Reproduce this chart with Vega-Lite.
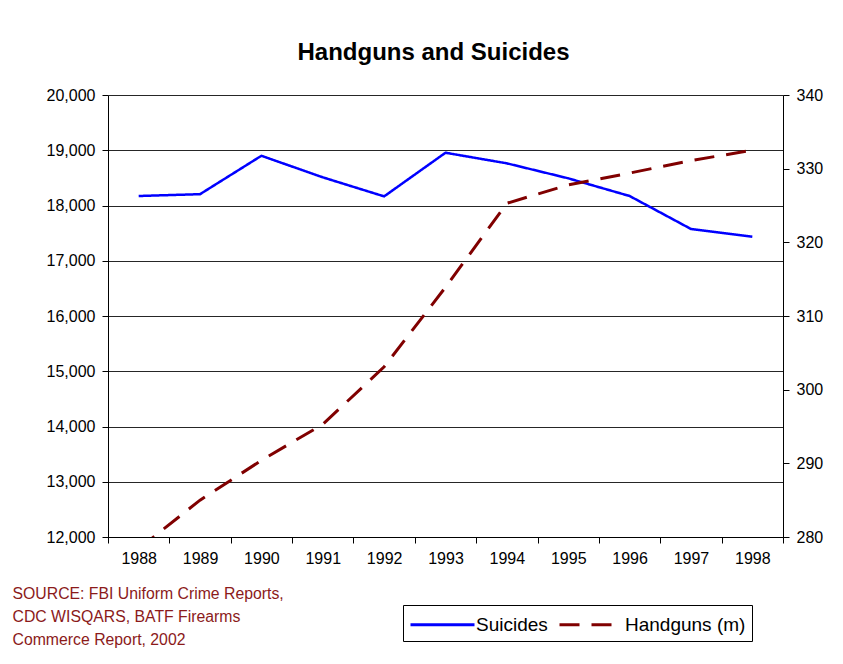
{
  "$schema": "https://vega.github.io/schema/vega-lite/v6.json",
  "width": 675,
  "height": 442,
  "autosize": "none",
  "padding": {"left": 108, "top": 95, "right": 60, "bottom": 127},
  "background": "white",
  "title": {
    "text": "Handguns and Suicides",
    "font": "Liberation Sans",
    "fontSize": 24,
    "fontWeight": "bold",
    "color": "black",
    "anchor": "middle",
    "dx": -12,
    "offset": 22
  },
  "config": {
    "view": {"stroke": null},
    "font": "Liberation Sans",
    "axis": {
      "labelFont": "Liberation Sans",
      "labelFontSize": 16,
      "labelColor": "black",
      "domainColor": "black",
      "tickColor": "black",
      "tickSize": 6,
      "labelPadding": 7
    }
  },
  "data": {
    "values": [
      {"year": "1988", "series": "Suicides", "value": 18172},
      {"year": "1989", "series": "Suicides", "value": 18205},
      {"year": "1990", "series": "Suicides", "value": 18900},
      {"year": "1991", "series": "Suicides", "value": 18510},
      {"year": "1992", "series": "Suicides", "value": 18165},
      {"year": "1993", "series": "Suicides", "value": 18955},
      {"year": "1994", "series": "Suicides", "value": 18763},
      {"year": "1995", "series": "Suicides", "value": 18492},
      {"year": "1996", "series": "Suicides", "value": 18172},
      {"year": "1997", "series": "Suicides", "value": 17575},
      {"year": "1998", "series": "Suicides", "value": 17435},
      {"year": "1988", "series": "Handguns (m)", "value": 278.4},
      {"year": "1989", "series": "Handguns (m)", "value": 285.0},
      {"year": "1990", "series": "Handguns (m)", "value": 290.4},
      {"year": "1991", "series": "Handguns (m)", "value": 295.3},
      {"year": "1992", "series": "Handguns (m)", "value": 303.1},
      {"year": "1993", "series": "Handguns (m)", "value": 313.9},
      {"year": "1994", "series": "Handguns (m)", "value": 325.3},
      {"year": "1995", "series": "Handguns (m)", "value": 327.8},
      {"year": "1996", "series": "Handguns (m)", "value": 329.4},
      {"year": "1997", "series": "Handguns (m)", "value": 331.1},
      {"year": "1998", "series": "Handguns (m)", "value": 332.5}
    ]
  },
  "encoding": {
    "x": {
      "field": "year",
      "type": "ordinal",
      "bandPosition": 0.5,
      "scale": {"type": "band", "paddingInner": 0, "paddingOuter": 0},
      "axis": {
        "labelAngle": 0,
        "tickBand": "extent",
        "domainColor": "black",
        "title": ["SOURCE: FBI Uniform Crime Reports,", "CDC WISQARS, BATF Firearms", "Commerce Report, 2002"],
        "titleFont": "Liberation Sans",
        "titleFontSize": 15.8,
        "titleFontWeight": "normal",
        "titleColor": "#8B1A1A",
        "titleAlign": "left",
        "titleBaseline": "top",
        "titleAnchor": "start",
        "titleX": -96,
        "titleY": 49,
        "titleLineHeight": 23
      }
    },
    "color": {
      "field": "series",
      "type": "nominal",
      "scale": {"domain": ["Suicides", "Handguns (m)"], "range": ["#0000FF", "#800000"]},
      "legend": {
        "title": null,
        "orient": "none",
        "legendX": 295,
        "legendY": 510,
        "direction": "horizontal",
        "strokeColor": "black",
        "padding": 6,
        "symbolType": "M-2.6667,0H2.6667",
        "symbolSize": 576,
        "symbolOffset": 20,
        "symbolStrokeWidth": 3,
        "labelFont": "Liberation Sans",
        "labelFontSize": 19,
        "labelColor": "black",
        "labelOffset": 20,
        "columnPadding": 5
      }
    },
    "strokeDash": {
      "field": "series",
      "type": "nominal",
      "scale": {"domain": ["Suicides", "Handguns (m)"], "range": [[1, 0], [20, 12]]},
      "legend": null
    }
  },
  "layer": [
    {
      "transform": [{"filter": "datum.series === 'Suicides'"}],
      "mark": {"type": "line", "strokeWidth": 2.5, "clip": true},
      "encoding": {
        "y": {
          "field": "value",
          "type": "quantitative",
          "scale": {"domain": [12000, 20000], "nice": false, "zero": false},
          "axis": {
            "title": null,
            "values": [12000, 13000, 14000, 15000, 16000, 17000, 18000, 19000, 20000],
            "format": ",.0f",
            "grid": true,
            "gridColor": "black",
            "gridOpacity": 0.85,
            "gridWidth": 1
          }
        }
      }
    },
    {
      "transform": [{"filter": "datum.series === 'Handguns (m)'"}],
      "mark": {"type": "line", "strokeWidth": 3, "clip": true},
      "encoding": {
        "y": {
          "field": "value",
          "type": "quantitative",
          "scale": {"domain": [280, 340], "nice": false, "zero": false},
          "axis": {
            "title": null,
            "orient": "right",
            "values": [280, 290, 300, 310, 320, 330, 340],
            "grid": false
          }
        }
      }
    }
  ],
  "resolve": {"scale": {"y": "independent"}}
}
